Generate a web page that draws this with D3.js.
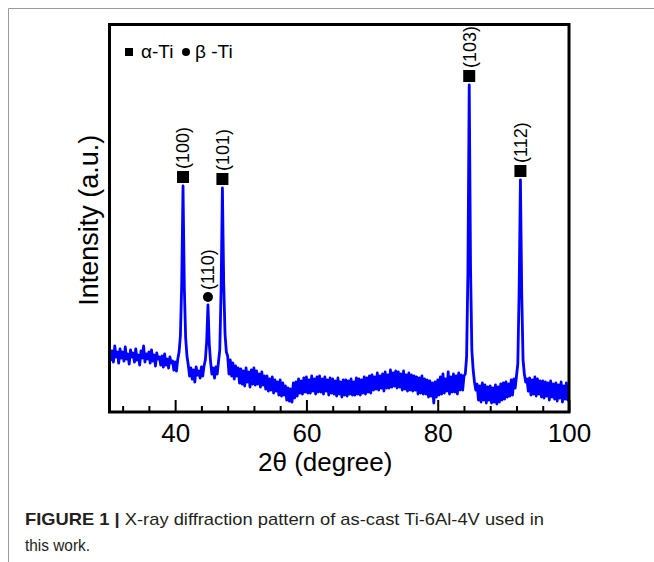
<!DOCTYPE html>
<html lang="en">
<head>
  <meta charset="UTF-8">
  <title>XRD pattern Ti-6Al-4V</title>
  <style>
    body, html {
      margin: 0;
      padding: 0;
      background: #fff;
    }
    #svg {
      display: block;
      font-family: "Liberation Sans", Arial, sans-serif;
    }
  </style>
</head>
<body>
  <svg id="svg" width="654" height="562"></svg>

  <script src="https://d3js.org/d3.v7.min.js"></script>
  <script>
    // scan: 2theta from 30 to 100 in 0.2 degree steps, intensity in a.u.
    const startAngle = 30
    const stepAngle = 0.2
    const intensity = [
      64, 52, 61, 50, 66, 55, 60, 49, 63, 54,   // 30
      60, 51, 65, 53, 58, 48, 62, 55, 59, 50,   // 32
      63, 52, 57, 47, 61, 54, 66, 50, 58, 53,   // 34
      60, 49, 62, 51, 57, 46, 59, 53, 55, 47,   // 36
      56, 45, 58, 47, 53, 44, 55, 49, 51, 42,   // 38
      50, 41, 53, 60, 76, 128, 226, 124, 74, 56, // 40
      47, 36, 44, 33, 42, 30, 45, 37, 41, 34,   // 42
      45, 36, 46, 52, 70, 107, 68, 50, 38, 44,  // 44
      34, 45, 38, 50, 62, 122, 224, 128, 78, 60, // 46
      56, 38, 52, 36, 49, 33, 46, 36, 44, 29,   // 48
      43, 28, 41, 26, 44, 30, 40, 25, 42, 28,   // 50
      44, 27, 41, 28, 38, 25, 40, 27, 36, 23,   // 52
      36, 21, 33, 22, 35, 19, 32, 21, 30, 17,   // 54
      32, 16, 29, 17, 26, 12, 24, 11, 23, 10,   // 56
      29, 14, 30, 16, 33, 19, 31, 18, 34, 20,   // 58
      35, 19, 32, 19, 36, 21, 33, 18, 35, 20,   // 60
      36, 20, 33, 18, 35, 21, 32, 17, 34, 19,   // 62
      33, 18, 31, 16, 34, 18, 30, 15, 32, 17,   // 64
      32, 16, 31, 18, 33, 17, 30, 17, 34, 18,   // 66
      33, 17, 32, 19, 35, 18, 34, 20, 36, 19,   // 68
      37, 22, 35, 23, 39, 22, 36, 24, 38, 21,   // 70
      40, 24, 37, 24, 42, 25, 39, 26, 41, 24,   // 72
      40, 25, 38, 22, 41, 23, 37, 21, 39, 22,   // 74
      37, 21, 36, 22, 35, 18, 34, 19, 36, 18,   // 76
      33, 18, 32, 15, 31, 16, 29, 9, 30, 15,    // 78
      32, 17, 35, 18, 38, 19, 33, 21, 40, 18,   // 80
      35, 20, 38, 20, 36, 18, 39, 22, 37, 22,   // 82
      36, 38, 55, 140, 327, 145, 62, 42, 30, 22, // 84
      28, 12, 26, 10, 29, 12, 27, 9, 25, 12,    // 86
      26, 9, 24, 10, 27, 8, 25, 10, 28, 12,     // 88
      29, 13, 30, 15, 28, 16, 32, 17, 33, 24,   // 90
      36, 48, 120, 232, 118, 52, 38, 30, 33, 21, // 92
      34, 17, 32, 18, 35, 16, 33, 18, 31, 15,   // 94
      31, 14, 30, 16, 29, 12, 31, 15, 28, 13,   // 96
      29, 11, 27, 14, 30, 10, 26, 13, 29, 12,   // 98
      22                                        // 100
    ]

    const peakAngles = [41.2, 45.0, 47.2, 84.8, 92.6]
    const peakLabels = ['(100)', '(110)', '(101)', '(103)', '(112)']
    const peakPhases = ['alpha', 'beta', 'alpha', 'alpha', 'alpha']

    const xTicks = [40, 60, 80, 100]
    const xMinorTicks = [32, 36, 44, 48, 52, 56, 64, 68, 72, 76, 84, 88, 92, 96]

    const svg = d3.select('#svg')

    const plotLeft = 109.5, plotRight = 569, plotTop = 24.5, plotBottom = 412

    const xscale = d3.scaleLinear()
      .domain([30, 100])
      .range([plotLeft, plotRight])

    const yscale = d3.scaleLinear()
      .domain([0, 387.5])
      .range([plotBottom, plotTop])

    const angleAt = i => startAngle + i * stepAngle

    // outer page frame (grey lines top / left)
    svg.append('path')
      .attr('d', 'M8.5,562 V8.5 H654')
      .attr('fill', 'none')
      .attr('stroke', '#9a9a9a')
      .attr('stroke-width', 1)

    svg.append('clipPath')
      .attr('id', 'plotclip')
      .append('rect')
      .attr('x', plotLeft)
      .attr('y', plotTop)
      .attr('width', plotRight - plotLeft)
      .attr('height', plotBottom - plotTop)

    const linegen = d3.line()
      .x((d, i) => xscale(angleAt(i)))
      .y(d => yscale(d))

    svg.append('path')
      .attr('clip-path', 'url(#plotclip)')
      .attr('d', linegen(intensity))
      .attr('fill', 'none')
      .attr('stroke', '#0000ff')
      .attr('stroke-width', 2.8)
      .attr('stroke-linejoin', 'round')

    // minor ticks
    svg.append('g')
      .attr('transform', `translate(0,${plotBottom})`)
      .call(d3.axisBottom(xscale).tickValues(xMinorTicks).tickSizeInner(-6).tickSizeOuter(0).tickFormat(''))
      .call(g => g.select('.domain').remove())
      .call(g => g.selectAll('line').attr('stroke', '#000').attr('stroke-width', 2))

    // major ticks + labels
    svg.append('g')
      .attr('transform', `translate(0,${plotBottom})`)
      .call(d3.axisBottom(xscale).tickValues(xTicks).tickSizeInner(-12).tickSizeOuter(0).tickPadding(12))
      .call(g => g.select('.domain').remove())
      .call(g => g.selectAll('line').attr('stroke', '#000').attr('stroke-width', 2))
      .call(g => g.selectAll('text')
        .attr('fill', '#000')
        .attr('font-family', '"Liberation Sans", Arial, sans-serif')
        .attr('font-size', 26))

    // plot frame
    svg.append('rect')
      .attr('x', plotLeft)
      .attr('y', plotTop)
      .attr('width', plotRight - plotLeft)
      .attr('height', plotBottom - plotTop)
      .attr('fill', 'none')
      .attr('stroke', '#000')
      .attr('stroke-width', 3)

    // axis titles
    svg.append('text')
      .attr('x', (plotLeft + plotRight) / 2 - 14)
      .attr('y', 471)
      .attr('text-anchor', 'middle')
      .attr('font-size', 26)
      .text('2θ (degree)')

    svg.append('text')
      .attr('transform', `translate(98,${(plotTop + plotBottom) / 2 + 2}) rotate(-90)`)
      .attr('text-anchor', 'middle')
      .attr('font-size', 27)
      .text('Intensity (a.u.)')

    // peak markers and (hkl) labels
    const peaks = peakAngles.map((a, k) => {
      const idx = Math.round((a - startAngle) / stepAngle)
      return { angle: a, top: intensity[idx], label: peakLabels[k], phase: peakPhases[k] }
    })

    const pg = svg.append('g')
      .selectAll('g')
      .data(peaks)
      .join('g')
      .attr('transform', d => `translate(${xscale(d.angle)},${yscale(d.top)})`)

    pg.filter(d => d.phase === 'alpha')
      .append('rect')
      .attr('x', -6)
      .attr('y', -15)
      .attr('width', 12)
      .attr('height', 12)
      .attr('fill', '#000')

    pg.filter(d => d.phase === 'beta')
      .append('circle')
      .attr('cx', 0)
      .attr('cy', -8)
      .attr('r', 5)
      .attr('fill', '#000')

    pg.append('text')
      .attr('transform', d => `translate(0,${d.phase === 'alpha' ? -17 : -15}) rotate(-90)`)
      .attr('dy', '0.35em')
      .attr('font-size', 18)
      .text(d => d.label)

    // legend
    const legend = svg.append('g')
    legend.append('rect')
      .attr('x', 125).attr('y', 48)
      .attr('width', 8).attr('height', 8)
      .attr('fill', '#000')
    legend.append('text')
      .attr('x', 141).attr('y', 58)
      .attr('font-size', 19)
      .text('α-Ti')
    legend.append('circle')
      .attr('cx', 186).attr('cy', 52).attr('r', 4)
      .attr('fill', '#000')
    legend.append('text')
      .attr('x', 195).attr('y', 58)
      .attr('font-size', 19)
      .text('β -Ti')

    // caption
    const cap = svg.append('text')
      .attr('x', 25)
      .attr('y', 525)
      .attr('font-size', 17)
      .attr('fill', '#231f20')
      .attr('textLength', 519)
      .attr('lengthAdjust', 'spacingAndGlyphs')
    cap.append('tspan').attr('font-weight', 'bold').text('FIGURE 1 |')
    cap.append('tspan').text(' X-ray diffraction pattern of as-cast Ti-6Al-4V used in')

    svg.append('text')
      .attr('x', 25)
      .attr('y', 551)
      .attr('font-size', 17)
      .attr('fill', '#231f20')
      .attr('textLength', 65)
      .attr('lengthAdjust', 'spacingAndGlyphs')
      .text('this work.')
  </script>
</body>
</html>
